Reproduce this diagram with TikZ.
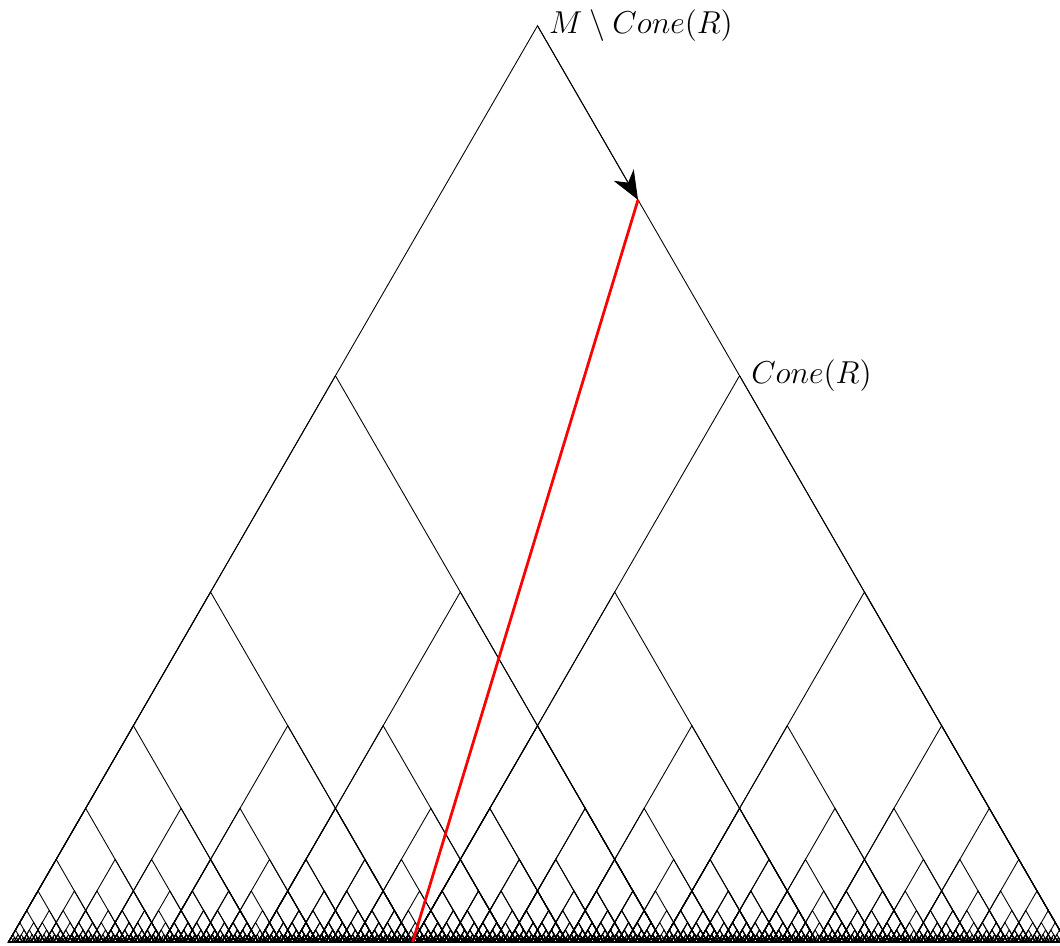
\documentclass[tikz,border=0pt]{standalone}
\usetikzlibrary{arrows.meta,calc}

% Recursive golden-ratio cone: #1 = apex abscissa, #2 = half-width of the base
\newcommand\conetri[2]{%
  \ifdim #2pt<2pt\relax\else
    \draw[tri] ({#1-#2},3) -- ({#1},{3+1.7320508*#2}) -- ({#1+#2},3) -- cycle;
    \pgfmathsetmacro\ctw{0.618034*#2}%
    \pgfmathsetmacro\ctl{#1-#2+\ctw}%
    \pgfmathsetmacro\ctr{#1+#2-\ctw}%
    \edef\ctnext{\noexpand\conetri{\ctl}{\ctw}\noexpand\conetri{\ctr}{\ctw}}%
    \ctnext
  \fi}

\begin{document}
\begin{tikzpicture}[x=0.4545pt,y=0.4545pt,
  tri/.style={line width=0.4pt},
  geod/.style={red,line width=1.25pt},
  lbl/.style={right,xshift=1.8pt,inner sep=3.33pt,font=\Large}]
  \useasboundingbox (0,0) rectangle (1060,945);

  % the whole tree of cones
  \conetri{537.5}{529}

  % key points
  \coordinate (top) at (537.5,{3+1.7320508*529});
  \coordinate (R) at (1066.5,3);
  \coordinate (cone) at ({537.5+529-0.618034*529},{3+1.7320508*0.618034*529});
  \coordinate (Q) at ({537.5+529-2*0.618034*529},3);
  \coordinate (P) at ($(top)!0.19!(R)$);

  % geodesic and arrow
  \draw[geod] (Q) -- (P);
  \draw[-{Stealth[length=13pt,width=10.5pt,inset=4pt]}] (top) -- (P);

  % labels
  \node[lbl] (lm) at (top) {$M \setminus Cone(R)$};
  \node[lbl] (lc) at (cone) {$Cone(R)$};
\end{tikzpicture}
\end{document}
